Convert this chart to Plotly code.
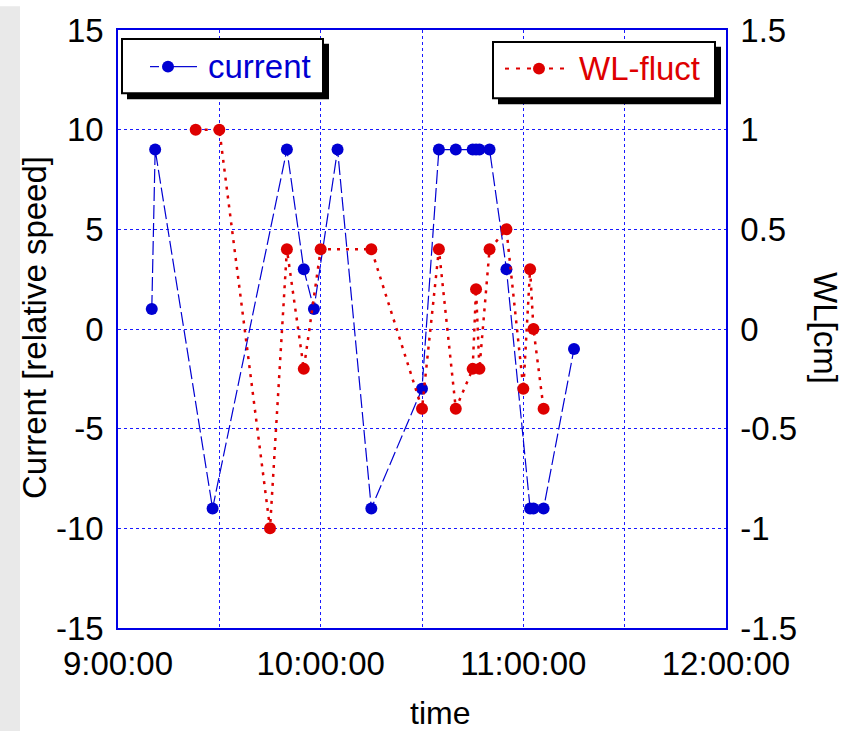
import plotly.graph_objects as go

# ---- data ----
current_times = ["09:10", "09:11", "09:28", "09:50", "09:55", "09:58", "10:05", "10:15",
                 "10:30", "10:35", "10:40", "10:45", "10:46", "10:47", "10:50", "10:55",
                 "11:02", "11:03", "11:06", "11:15"]
current_values = [1, 9, -9, 9, 3, 1, 9, -9, -3, 9, 9, 9, 9, 9, 9, 3, -9, -9, -9, -1]

wl_times = ["09:23", "09:30", "09:45", "09:50", "09:55", "10:00", "10:15", "10:30",
            "10:35", "10:40", "10:45", "10:46", "10:47", "10:50", "10:55", "11:00",
            "11:02", "11:03", "11:06"]
wl_values = [1.0, 1.0, -1.0, 0.4, -0.2, 0.4, 0.4, -0.4, 0.4, -0.4, -0.2, 0.2, -0.2,
             0.4, 0.5, -0.3, 0.3, 0.0, -0.4]

x_tick_times = ["09:00", "09:30", "10:00", "10:30", "11:00", "11:30", "12:00"]
x_tick_labels = ["9:00:00", "", "10:00:00", "", "11:00:00", "", "12:00:00"]
y1_ticks = [-15, -10, -5, 0, 5, 10, 15]
y1_labels = ["-15", "-10", "-5", "0", "5", "10", "15"]
y2_ticks = [-1.5, -1, -0.5, 0, 0.5, 1, 1.5]
y2_labels = ["-1.5", "-1", "-0.5", "0", "0.5", "1", "1.5"]

series_names = ["current", "WL-fluct"]

DAY = "2000-01-01 "
def ts(t):
    return DAY + t + ":00"

BLUE = "rgb(0,0,210)"
RED = "rgb(222,0,0)"
GRID = "rgb(25,25,255)"
AXLINE = "rgb(0,0,230)"
FONT = "Liberation Sans, Arial, sans-serif"

W, H = 844, 732
L, R, T, B = 118, 118, 24, 104
PW, PH = W - L - R, H - T - B

def px(xp):
    return (xp - L) / PW

def py(yp):
    return 1 - (yp - T) / PH

fig = go.Figure()
fig.add_trace(go.Scatter(
    x=[ts(t) for t in current_times], y=current_values, name=series_names[0],
    mode="lines+markers",
    line=dict(color=BLUE, width=1.2, dash="14px,4px"),
    marker=dict(color=BLUE, size=12),
    showlegend=False,
))
fig.add_trace(go.Scatter(
    x=[ts(t) for t in wl_times], y=wl_values, name=series_names[1],
    mode="lines+markers", yaxis="y2",
    line=dict(color=RED, width=2.5, dash="3px,6px"),
    marker=dict(color=RED, size=12),
    showlegend=False,
))

def rect(x0, y0, x1, y1, fill, lw=0, lc="black", layer="above"):
    return dict(type="rect", xref="paper", yref="paper", layer=layer,
                x0=px(x0), x1=px(x1), y0=py(y1), y1=py(y0),
                fillcolor=fill, line=dict(width=lw, color=lc))

def seg(x0, x1, yv, color, width, dash):
    return dict(type="line", xref="paper", yref="paper", layer="above",
                x0=px(x0), x1=px(x1), y0=py(yv), y1=py(yv),
                line=dict(color=color, width=width, dash=dash))

def dot(cx, cy, r, color):
    return dict(type="circle", xref="paper", yref="paper", layer="above",
                x0=px(cx - r), x1=px(cx + r), y0=py(cy + r), y1=py(cy - r),
                fillcolor=color, line=dict(width=0))

shapes = [
    # light grey strip at left edge of the page
    rect(0, 0, 20, H, "#e9e9e9", layer="below"),
    # legend 1: shadow, box, sample
    rect(127, 38, 329, 94, "black"),
    rect(122, 33, 323, 88, "white", lw=2),
    seg(150, 159, 61, BLUE, 1.2, "solid"),
    seg(173, 197, 61, BLUE, 1.2, "solid"),
    dot(168, 61, 6, BLUE),
    # legend 2: shadow, box, sample
    rect(498, 41, 721, 99, "black"),
    rect(493, 36, 715, 93, "white", lw=2),
    seg(505, 571, 63, RED, 2, "4px,7px"),
    dot(539, 63, 6, RED),
]

annotations = [
    dict(text=series_names[0], xref="paper", yref="paper", x=px(206), y=py(61),
         xanchor="left", yanchor="middle", showarrow=False,
         font=dict(family=FONT, size=33, color=BLUE)),
    dict(text=series_names[1], xref="paper", yref="paper", x=px(577), y=py(63),
         xanchor="left", yanchor="middle", showarrow=False,
         font=dict(family=FONT, size=33, color=RED)),
    dict(text="time", xref="paper", yref="paper", x=px(440), y=py(714),
         xanchor="center", yanchor="middle", showarrow=False,
         font=dict(family="Liberation Sans Narrow, " + FONT, size=32, color="black")),
    dict(text="WL[cm]", xref="paper", yref="paper", x=px(826), y=py(325),
         xanchor="center", yanchor="middle", showarrow=False, textangle=90,
         font=dict(family=FONT, size=33, color="black")),
    dict(text="Current [relative speed]", xref="paper", yref="paper", x=px(34), y=py(325),
         xanchor="center", yanchor="middle", showarrow=False, textangle=-90,
         font=dict(family=FONT, size=33, color="black")),
]

fig.update_layout(
    width=W, height=H,
    margin=dict(l=L, r=R, t=T, b=B, pad=0),
    paper_bgcolor="white", plot_bgcolor="white",
    font=dict(family=FONT, color="black"),
    shapes=shapes, annotations=annotations,
    showlegend=False,
    xaxis=dict(
        type="date",
        range=[ts("09:00"), ts("12:00")],
        tickvals=[ts(t) for t in x_tick_times], ticktext=x_tick_labels,
        showgrid=True, gridcolor=GRID, griddash="3px,3px", gridwidth=1,
        showline=True, linecolor=AXLINE, linewidth=1.5, mirror=True,
        ticks="", ticklabelstandoff=6,
        tickfont=dict(family=FONT, size=33, color="black"),
        zeroline=False,
    ),
    yaxis=dict(
        range=[-15, 15], tickvals=y1_ticks, ticktext=y1_labels,
        showgrid=True, gridcolor=GRID, griddash="3px,3px", gridwidth=1,
        showline=True, linecolor=AXLINE, linewidth=1.5, mirror=True,
        ticks="", ticklabelstandoff=6, zeroline=False,
        tickfont=dict(family=FONT, size=33, color="black"),
    ),
    yaxis2=dict(
        range=[-1.5, 1.5], tickvals=y2_ticks, ticktext=y2_labels,
        overlaying="y", side="right", showgrid=False, zeroline=False,
        showline=True, linecolor=AXLINE, linewidth=1.5,
        ticks="", ticklabelstandoff=6,
        tickfont=dict(family=FONT, size=33, color="black"),
    ),
)

fig.write_html("out.html")
